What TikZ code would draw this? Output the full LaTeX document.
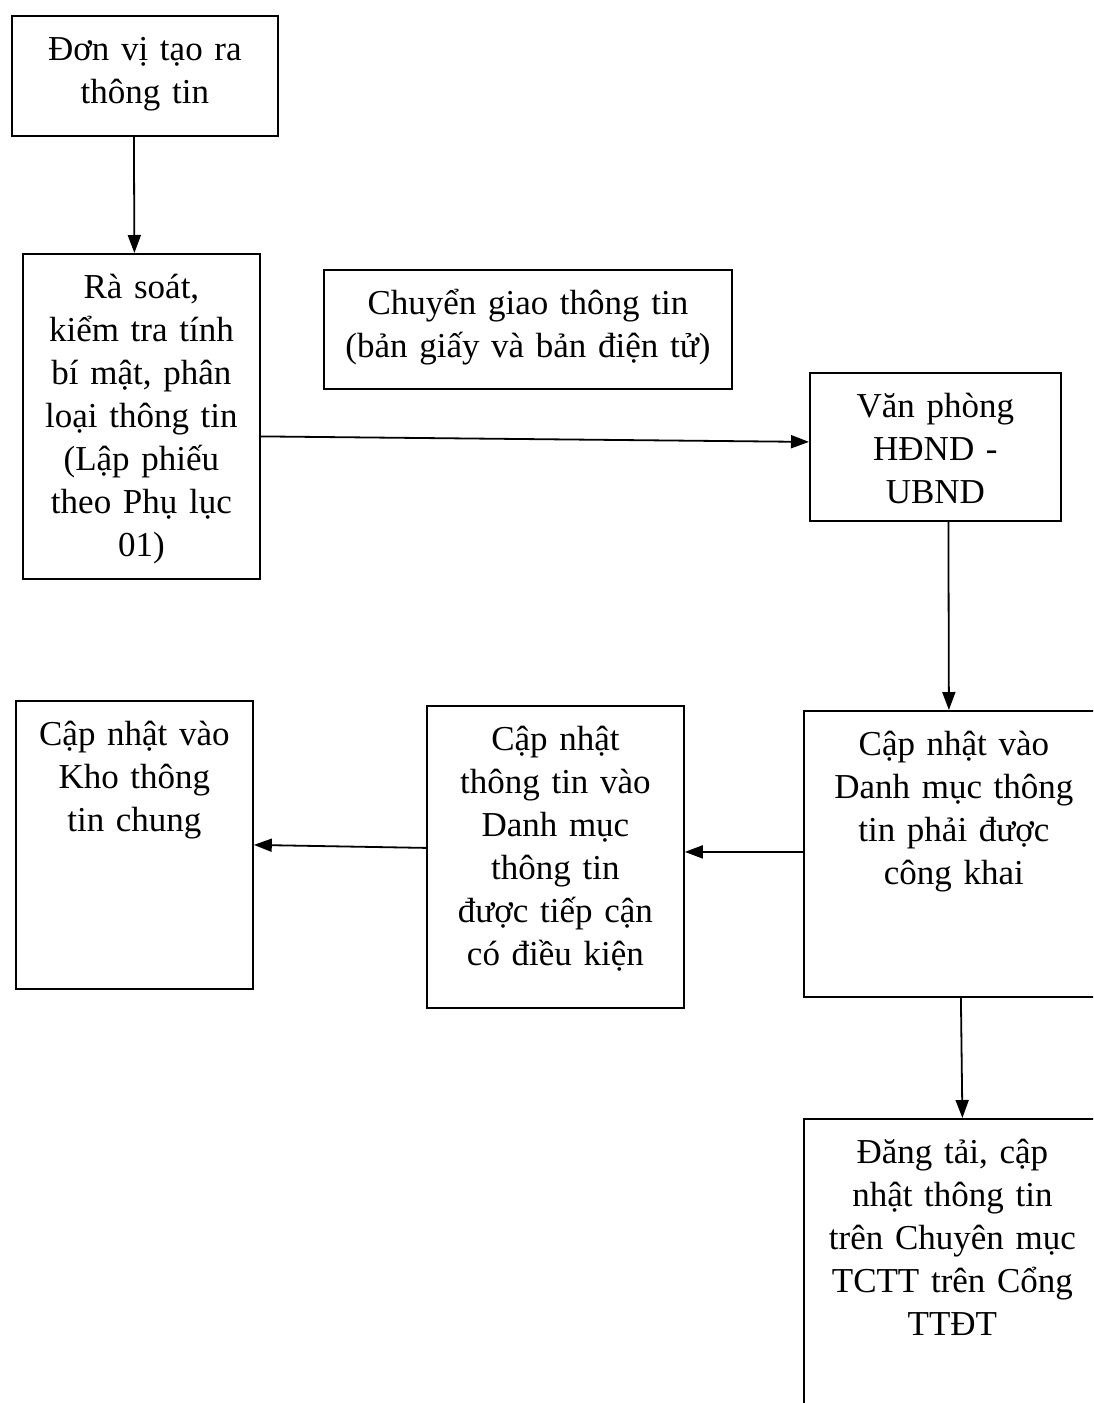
\documentclass[tikz,border=0pt]{standalone}
\usepackage{fontspec}
\setmainfont{Liberation Serif}
\usepackage{tikz}
\usetikzlibrary{arrows.meta}
\tikzset{box/.style = {draw,line width=1.8pt,inner sep=0pt,anchor=north west,align=center,text height=45pt,font=\fontsize{35}{43}\selectfont},
         arr/.style = {line width=1.8pt,-{Triangle[length=18pt,width=13pt]}}}

\begin{document}
\begin{tikzpicture}[x=1pt,y=-1pt]
            \useasboundingbox (0,0) rectangle (1093,1403);
            \clip (0,0) rectangle (1093,1403);

            \node [box,text width=266pt,text depth=75pt]  (src)    at ( 11,  15) {Đơn vị tạo ra\\thông tin};
            \node [box,text width=237pt,text depth=280pt] (check)  at ( 22, 253) {Rà soát,\\kiểm tra tính\\bí mật, phân\\loại thông tin\\(Lập phiếu\\theo Phụ lục\\01)};
            \node [box,text width=408pt,text depth=74pt]  (send)   at (323, 269) {Chuyển giao thông tin\\(bản giấy và bản điện tử)};
            \node [box,text width=251pt,text depth=103pt] (office) at (809, 372) {Văn phòng\\HĐND -\\UBND};
            \node [box,text width=300pt,text depth=241pt] (pub)    at (803, 710) {Cập nhật vào\\Danh mục thông\\tin phải được\\công khai};
            \node [box,text width=257pt,text depth=257pt] (cond)   at (426, 705) {Cập nhật\\thông tin vào\\Danh mục\\thông tin\\được tiếp cận\\có điều kiện};
            \node [box,text width=237pt,text depth=243pt] (store)  at ( 15, 700) {Cập nhật vào\\Kho thông\\tin chung};
            \node [box,text width=297pt,text depth=287pt] (post)   at (803,1118) {Đăng tải, cập\\nhật thông tin\\trên Chuyên mục\\TCTT trên Cổng\\TTĐT};

            \draw [arr] ([xshift=-11pt]src.south)   -- ([xshift=-7pt]check.north);
            \draw [arr] ([yshift=-20pt]check.east)  -- ([yshift=5pt]office.west);
            \draw [arr] ([xshift=13pt]office.south) -- ([xshift=-5pt]pub.north);
            \draw [arr] ([yshift=2pt]pub.west)      -- ([yshift=5pt]cond.east);
            \draw [arr] ([yshift=9pt]cond.west)     -- (store.east);
            \draw [arr] ([xshift=7pt]pub.south)     -- ([xshift=10pt]post.north);
        \end{tikzpicture}
\end{document}
